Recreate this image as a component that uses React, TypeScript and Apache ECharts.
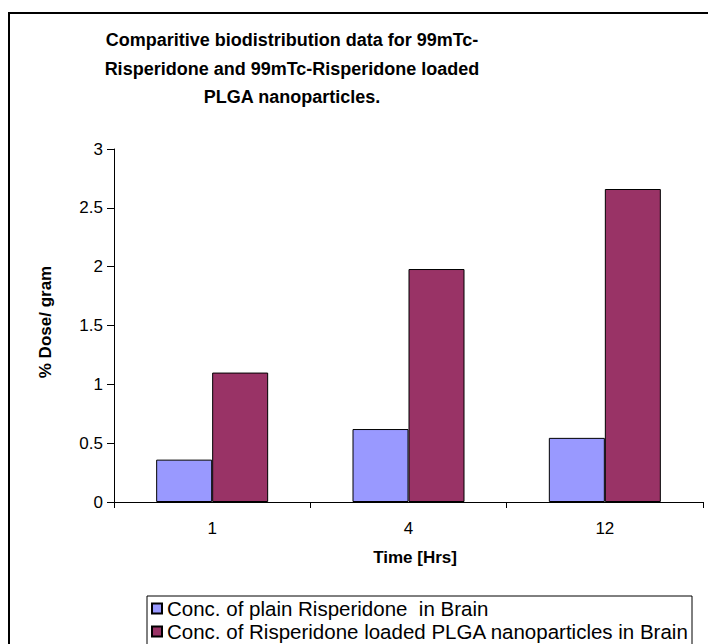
import React, { useEffect, useRef } from "react";
import * as echarts from "echarts";

const categories = ["1", "4", "12"];
const plainValues = [0.36, 0.62, 0.545];
const plgaValues = [1.1, 1.98, 2.66];
const seriesNames = [
  "Conc. of plain Risperidone  in Brain",
  "Conc. of Risperidone loaded PLGA nanoparticles in Brain",
];
const titleLines = [
  "Comparitive biodistribution data for 99mTc-",
  "Risperidone and 99mTc-Risperidone loaded",
  "PLGA nanoparticles.",
];
const yAxisTitle = "% Dose/ gram";
const xAxisTitle = "Time [Hrs]";

const FONT = "'Liberation Sans', Arial, sans-serif";

export default function App() {
  const ref = useRef<HTMLDivElement>(null);
  useEffect(() => {
    if (!ref.current) return;
    const chart = echarts.init(ref.current, undefined, { renderer: "svg" });
    const legendBase = {
      orient: "horizontal",
      left: 151,
      padding: 0,
      itemWidth: 10,
      itemHeight: 10,
      icon: "rect",
      textStyle: { fontSize: 20.5, lineHeight: 20, color: "#000", fontFamily: FONT },
    };
    chart.setOption({
      animation: false,
      backgroundColor: "#ffffff",
      textStyle: { fontFamily: FONT, color: "#000" },
      grid: { left: 114, top: 149, width: 589, height: 353, containLabel: false },
      legend: [
        { ...legendBase, top: 598, data: [seriesNames[0]] },
        { ...legendBase, top: 621, data: [seriesNames[1]] },
      ],
      xAxis: {
        type: "category",
        data: categories,
        boundaryGap: true,
        axisLine: { show: true, lineStyle: { color: "#000", width: 1 } },
        axisTick: { show: true, length: 6, lineStyle: { color: "#000" } },
        axisLabel: { fontSize: 17, color: "#000", margin: 18, fontFamily: FONT },
        splitLine: { show: false },
      },
      yAxis: {
        type: "value",
        min: 0,
        max: 3,
        interval: 0.5,
        axisLine: { show: true, lineStyle: { color: "#000", width: 1 } },
        axisTick: { show: true, length: 7, lineStyle: { color: "#000" } },
        axisLabel: { fontSize: 17, color: "#000", margin: 11, fontFamily: FONT },
        splitLine: { show: false },
      },
      series: [
        {
          name: seriesNames[0],
          type: "bar",
          data: plainValues,
          barWidth: 56,
          barGap: "0%",
          itemStyle: { color: "#9999FF", borderColor: "#000", borderWidth: 1 },
        },
        {
          name: seriesNames[1],
          type: "bar",
          data: plgaValues,
          barWidth: 56,
          barGap: "0%",
          itemStyle: { color: "#993366", borderColor: "#000", borderWidth: 1 },
        },
      ],
      graphic: [
        {
          type: "rect",
          silent: true,
          shape: { x: 9, y: 13, width: 720, height: 700 },
          style: { fill: "none", stroke: "#000", lineWidth: 2 },
        },
        {
          type: "rect",
          silent: true,
          shape: { x: 147, y: 596, width: 545, height: 60 },
          style: { fill: "none", stroke: "#000", lineWidth: 1 },
        },
        ...titleLines.map((t, i) => ({
          type: "text",
          silent: true,
          x: 292,
          y: 40 + i * 28.5,
          style: {
            text: t,
            fontSize: 18,
            fontWeight: "bold",
            fontFamily: FONT,
            fill: "#000",
            textAlign: "center",
            textVerticalAlign: "middle",
          },
        })),
        {
          type: "text",
          silent: true,
          x: 45,
          y: 322,
          rotation: Math.PI / 2,
          style: {
            text: yAxisTitle,
            fontSize: 17,
            fontWeight: "bold",
            fontFamily: FONT,
            fill: "#000",
            textAlign: "center",
            textVerticalAlign: "middle",
          },
        },
        {
          type: "text",
          silent: true,
          x: 415,
          y: 557,
          style: {
            text: xAxisTitle,
            fontSize: 17,
            fontWeight: "bold",
            fontFamily: FONT,
            fill: "#000",
            textAlign: "center",
            textVerticalAlign: "middle",
          },
        },
      ],
    });
    return () => chart.dispose();
  }, []);
  return (
    <div
      ref={ref}
      style={{ position: "fixed", left: 0, top: 0, width: 708, height: 644, background: "#fff" }}
    />
  );
}
